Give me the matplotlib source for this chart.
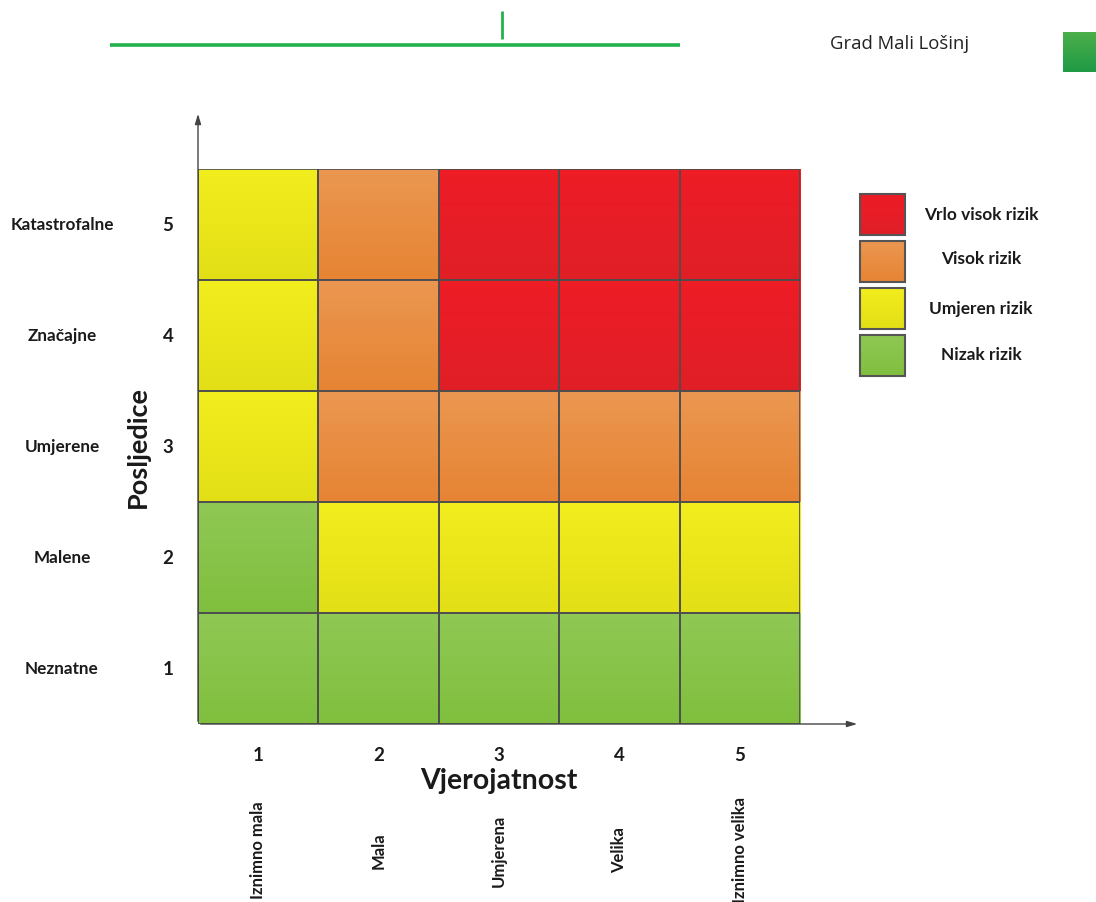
import numpy as np
import matplotlib
matplotlib.use("Agg")
import matplotlib.pyplot as plt
import matplotlib.transforms as mtransforms
from matplotlib.colors import to_rgb
from matplotlib.patches import Rectangle

plt.rcParams['font.family'] = ['Lato', 'DejaVu Sans']

# Data
probability = [1, 2, 3, 4, 5]
probability_labels = ["Iznimno mala", "Mala", "Umjerena", "Velika", "Iznimno velika"]
consequence = [1, 2, 3, 4, 5]
consequence_labels = ["Neznatne", "Malene", "Umjerene", "Značajne", "Katastrofalne"]
# risk level per (consequence row 1..5, probability col 1..5): 0 low, 1 moderate, 2 high, 3 very high
risk = [
    [0, 0, 0, 0, 0],
    [0, 1, 1, 1, 1],
    [1, 2, 2, 2, 2],
    [1, 2, 3, 3, 3],
    [1, 2, 3, 3, 3],
]
level_names = ["Nizak rizik", "Umjeren rizik", "Visok rizik", "Vrlo visok rizik"]
level_top = ["#8fc854", "#f2ed1d", "#eb9751", "#ee1c25"]
level_bot = ["#80bf3e", "#e3df17", "#e68433", "#e01f27"]

W, H = 1096, 903
fig = plt.figure(figsize=(W / 100, H / 100), dpi=100)

def fx(px):
    return px / W

def fy(py):
    return 1 - py / H

def grad_img(top, bot, n=64):
    t = np.array(to_rgb(top)); b = np.array(to_rgb(bot))
    f = np.linspace(0, 1, n)[:, None]
    return (t * (1 - f) + b * f)[:, None, :]

# Header decoration
hdr = fig.add_axes([0, 0, 1, 1], zorder=-1)
hdr.axis('off')
hdr.plot([110, 680], [46, 46], color="#22b14c", lw=2.6, solid_capstyle='butt')
hdr.plot([502, 502], [12, 40], color="#22b14c", lw=2.0, solid_capstyle='butt')
hdr.imshow(grad_img("#4caf4a", "#1f9a45"), extent=(1063, 1096, 73, 33),
           aspect='auto', interpolation='bilinear')
fig.text(fx(830), fy(44), "Grad Mali Lošinj", fontsize=13.3, ha='left', va='center',
         color="#222222", family=['Open Sans', 'DejaVu Sans'])

# Main matrix
ax = fig.add_axes([fx(198), fy(725), fx(800) - fx(198), fy(170) - fy(725)])
for i, c in enumerate(consequence):
    for j, p in enumerate(probability):
        lv = risk[i][j]
        ax.imshow(grad_img(level_top[lv], level_bot[lv]),
                  extent=(p - 0.5, p + 0.5, c - 0.5, c + 0.5), origin='upper',
                  aspect='auto', interpolation='bilinear', zorder=1)
        ax.add_patch(Rectangle((p - 0.5, c - 0.5), 1, 1, fill=False,
                               ec="#4d4d4d", lw=1.2, zorder=2))
ax.set_xlim(0.5, 5.5)
ax.set_ylim(0.5, 5.5)
ax.set_xticks([]); ax.set_yticks([])
for s in ax.spines.values():
    s.set_visible(False)

# Axis arrows
ax.annotate("", xy=(1.0997, 0), xytext=(0, 0), xycoords='axes fraction',
            arrowprops=dict(arrowstyle="-|>,head_length=0.6,head_width=0.18",
                            color="#444444", lw=1.0), annotation_clip=False)
ax.annotate("", xy=(0, 1.1045), xytext=(0, 0), xycoords='axes fraction',
            arrowprops=dict(arrowstyle="-|>,head_length=0.6,head_width=0.18",
                            color="#444444", lw=1.0), annotation_clip=False)

# X labels
for p, lab in zip(probability, probability_labels):
    ax.text(p, -0.055, str(p), transform=ax.get_xaxis_transform(),
            ha='center', va='center', fontsize=13.5, fontweight='bold', color="#1a1a1a")
    ax.text(p, -0.226, lab, transform=ax.get_xaxis_transform(),
            ha='center', va='center', rotation=90, fontsize=12,
            fontweight='bold', color="#1a1a1a")
fig.text(fx(499), fy(781), "Vjerojatnost", ha='center', va='center',
         fontsize=20.5, fontweight='bold', color="#1a1a1a")

# Y labels
ytr = mtransforms.blended_transform_factory(fig.transFigure, ax.transData)
for c, lab in zip(consequence, consequence_labels):
    ax.text(fx(168), c, str(c), transform=ytr,
            ha='center', va='center', fontsize=13.5, fontweight='bold', color="#1a1a1a")
    ax.text(fx(62), c, lab, transform=ytr,
            ha='center', va='center', fontsize=12.3, fontweight='bold', color="#1a1a1a")
fig.text(fx(138), fy(447), "Posljedice", ha='center', va='center', rotation=90,
         fontsize=19.5, fontweight='bold', color="#1a1a1a")

# Legend
leg_y = [195, 242, 289, 336]
leg_text_y = [215, 259, 309, 355]
for k, lv in enumerate([3, 2, 1, 0]):
    y0 = leg_y[k]
    hdr.imshow(grad_img(level_top[lv], level_bot[lv]), extent=(860, 905, y0 + 41, y0),
               aspect='auto', interpolation='bilinear', zorder=1)
    hdr.add_patch(Rectangle((860, y0), 45, 41, fill=False, ec="#555555", lw=1.5, zorder=2))
    fig.text(fx(981), fy(leg_text_y[k]), level_names[lv], ha='center', va='center',
             fontsize=12.4, fontweight='bold', color="#1a1a1a")
hdr.set_xlim(0, W); hdr.set_ylim(H, 0)

fig.savefig("out.png", dpi=100)
